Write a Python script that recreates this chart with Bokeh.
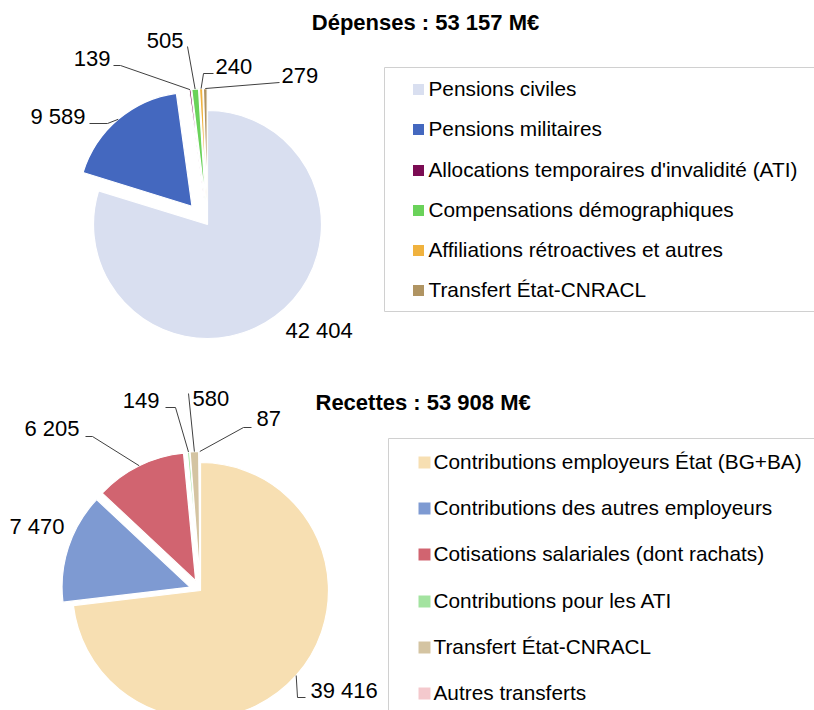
import numpy as np
from bokeh.plotting import figure
from bokeh.models import Range1d
from bokeh.core.properties import value
from bokeh.embed import file_html
from bokeh.resources import INLINE

# ---------------- data ----------------
dep_title = "Dépenses : 53 157 M€"
dep_categories = ["Pensions civiles", "Pensions militaires",
                  "Allocations temporaires d'invalidité (ATI)",
                  "Compensations démographiques",
                  "Affiliations rétroactives et autres",
                  "Transfert État-CNRACL"]
dep_values = [42404, 9589, 139, 505, 240, 279]

rec_title = "Recettes  : 53 908 M€"
rec_categories = ["Contributions employeurs État (BG+BA)",
                  "Contributions des autres employeurs",
                  "Cotisations salariales (dont rachats)",
                  "Contributions pour les ATI",
                  "Transfert État-CNRACL",
                  "Autres transferts"]
rec_values = [39416, 7470, 6205, 149, 580, 87]

# ---------------- styles ----------------
dep_colors = ["#D9DFF0", "#4468BF", "#7B0C53", "#6AD25A", "#F0B23E", "#B09462"]
rec_colors = ["#F7DFB2", "#7E9AD2", "#D16470", "#A3E3A0", "#D4C4A2", "#F4C9CD"]

FONT = "Liberation Sans"
W, H = 814, 710
OX, OY = 0, 0


def X(x):
    return x - OX


def Y(y):
    return H + OY - y


p = figure(width=W, height=H, x_range=Range1d(0, W), y_range=Range1d(0, H),
           x_axis_type=None, y_axis_type=None, toolbar_location=None,
           output_backend="svg", min_border=0, outline_line_color=None,
           background_fill_color="white", border_fill_color="white")
p.xgrid.visible = False
p.ygrid.visible = False


def fmt(v):
    return f"{v:,}".replace(",", " ")


def draw_pie(values, colors, cx, cy, r, explode, layout):
    vals = np.array(values, dtype=float)
    frac = vals / vals.sum()
    c1 = np.cumsum(frac)
    c0 = c1 - frac
    mid = (c0 + c1) * np.pi  # clockwise angle from top
    start = np.pi / 2 - c0 * 2 * np.pi
    end = np.pi / 2 - c1 * 2 * np.pi
    ex = np.array(explode, dtype=float)
    xs = X(cx) + ex * np.sin(mid)
    ys = Y(cy) + ex * np.cos(mid)
    p.wedge(x=xs, y=ys, radius=r, start_angle=start, end_angle=end,
            direction="clock", fill_color=colors, line_color="white",
            line_width=1.2)
    lx, ly = [], []
    for i, lay in enumerate(layout):
        tx, ty, align, line = lay
        p.text(x=[X(tx)], y=[Y(ty)], text=[fmt(values[i])],
               text_font=value(FONT), text_font_size="22px",
               text_align=align, text_baseline="middle", text_color="#000000")
        if line is not None:
            (s, e) = line
            ax = xs[i] + r * np.sin(mid[i])
            ay = ys[i] + r * np.cos(mid[i])
            lx.append([X(s[0]), X(e[0]), ax])
            ly.append([Y(s[1]), Y(e[1]), ay])
    p.multi_line(xs=lx, ys=ly, line_color="#404040", line_width=1)


def draw_legend(cats, colors, box, sq_x, sq_size, txt_x, ys):
    l, t, rgt, b = box
    p.quad(left=[X(l)], right=[X(rgt)], top=[Y(t)], bottom=[Y(b)],
           fill_color=None, line_color="#D0D0D0", line_width=1)
    yy = [Y(v) for v in ys]
    p.rect(x=[X(sq_x)] * len(cats), y=yy, width=sq_size, height=sq_size,
           fill_color=colors, line_color=None)
    p.text(x=[X(txt_x)] * len(cats), y=[v + 1 for v in yy], text=cats,
           text_font=value(FONT), text_font_size="20.8px", text_align="left",
           text_baseline="middle", text_color="#000000")


# ---- top pie (Dépenses) ----
dep_layout = [
    (285, 330, "left", None),
    (85, 116, "right", ((89, 123), (107, 123))),
    (110, 58, "right", ((113, 65), (120, 65))),
    (183, 40, "right", ((187, 46), (187, 46))),
    (215, 66, "left", ((213, 73), (203, 73))),
    (281, 75, "left", ((279, 82), (279, 82))),
]
draw_pie(dep_values, dep_colors, 207, 224, 114, [0, 24, 22, 22, 22, 22], dep_layout)
p.text(x=[X(425)], y=[Y(22)], text=[dep_title], text_font=value(FONT),
       text_font_size="22px", text_font_style="bold", text_align="center",
       text_baseline="middle")
draw_legend(dep_categories, dep_colors, (384, 67, 830, 311), 418, 11, 428,
            [89, 129, 170, 210, 250, 290])

# ---- bottom pie (Recettes) ----
rec_layout = [
    (310, 690, "left", ((305, 697), (297, 697))),
    (64, 526, "right", None),
    (79, 428, "right", ((85, 436), (92, 436))),
    (159, 400, "right", ((165, 407), (175, 407))),
    (192, 398, "left", ((188, 393), (188, 393))),
    (256, 418, "left", ((251, 427), (243, 427))),
]
draw_pie(rec_values, rec_colors, 200, 590, 128, [0, 11, 11, 11, 11, 11], rec_layout)
p.text(x=[X(315)], y=[Y(402)], text=[rec_title], text_font=value(FONT),
       text_font_size="22px", text_font_style="bold", text_align="left",
       text_baseline="middle")
draw_legend(rec_categories, rec_colors, (388, 438, 830, 730), 424, 12, 433,
            [462, 508, 554, 601, 647, 693])

open("out.html", "w").write(file_html(p, INLINE))
